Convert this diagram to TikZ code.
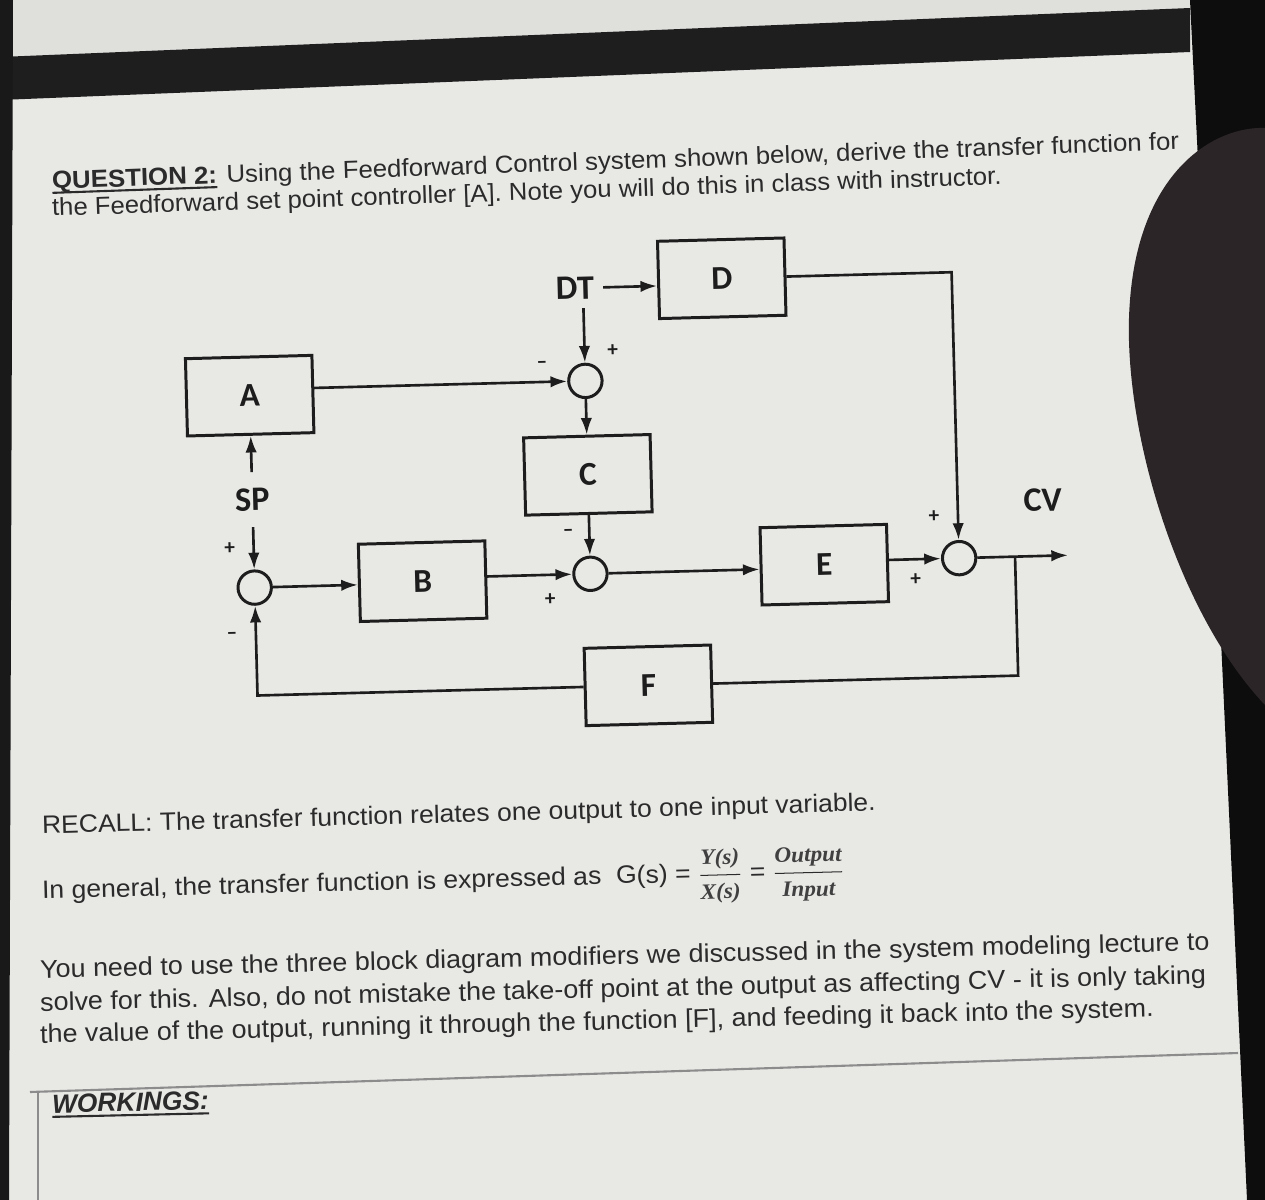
\documentclass[tikz,border=0pt]{standalone}
\usepackage{amsmath}
\usepackage{graphicx}
\usepackage{fontspec}
\setmainfont{Liberation Sans}
\newfontfamily\calib{Carlito}
\newfontfamily\cambr{Liberation Serif}
\usetikzlibrary{arrows.meta,calc}
\definecolor{ink}{HTML}{1D1D1D}
\definecolor{txt}{HTML}{2B2B2B}
\definecolor{paper}{HTML}{E8E9E5}
\definecolor{band}{HTML}{1E1E1E}
\definecolor{finger}{HTML}{2C2527}
\tikzset{
  blk/.style={draw=ink, line width=1.7pt, minimum width=72pt, minimum height=44pt, inner sep=0pt,
    font=\calib\bfseries\fontsize{19}{19}\selectfont, text=ink},
  sumj/.style={circle, draw=ink, line width=1.7pt, minimum size=19pt, inner sep=0pt},
  lbl/.style={inner sep=5pt, font=\calib\bfseries\fontsize{19.5}{19.5}\selectfont, text=ink},
  sgn/.style={inner sep=0pt, font=\calib\bfseries\fontsize{12}{12}\selectfont, text=ink},
  wire/.style={draw=ink, line width=1.5pt},
  conn/.style={wire, -{Latex[length=9.5pt,width=6.5pt]}},
  body/.style={anchor=base west, inner sep=0pt, text=txt},
}
\newcommand{\fracfnt}{\cambr\bfseries\itshape\fontsize{12.5}{12.5}\selectfont\color{black!75}}
\newcommand{\ulbar}[1]{\setbox0\hbox{#1}\rlap{\rule[-2.8pt]{\wd0}{1.2pt}}#1}
\begin{document}
\begin{tikzpicture}[x=0.02cm,y=-0.02cm]
\useasboundingbox (0,0) rectangle (1265,1200);
% background
\fill[paper] (0,0) rectangle (1265,1200);
\fill[black!4!paper] (0,0) -- (1190,0) -- (1190,8) -- (0,57) -- cycle;
\fill[band] (0,57) -- (1190,8) -- (1190,52) -- (0,100) -- cycle;
\fill[black!90] (0,0) -- (13,0) -- (9,1200) -- (0,1200) -- cycle;
\fill[black!95] (1190,0) -- (1265,0) -- (1265,1200) -- (1247,1200) -- (1221,640) -- (1197,140) -- cycle;
\fill[finger] (1265,128) .. controls (1215,126) and (1140,170) .. (1130,300)
  .. controls (1120,420) and (1175,610) .. (1265,705) -- cycle;

% body text
\node[body, rotate=2.0, font=\fontsize{14}{16}\selectfont] (q1) at (52,189) {\scalebox{1.05}[1]{\ulbar{\textbf{QUESTION 2:}} Using the Feedforward Control system shown below, derive the transfer function for}};
\node[body, rotate=1.9, font=\fontsize{14}{16}\selectfont] (q2) at (52,216) {\scalebox{1.045}[1]{the Feedforward set point controller [A]. Note you will do this in class with instructor.}};
\node[body, rotate=1.6, font=\fontsize{14.3}{16}\selectfont] (r1) at (42,834) {\scalebox{1.055}[1]{RECALL: The transfer function relates one output to one input variable.}};
\node[body, rotate=1.5, font=\fontsize{14.3}{16}\selectfont] (r2) at (42,899) {\scalebox{1.057}[1]{In general, the transfer function is expressed as\ \ G(s) = $\dfrac{\text{\fracfnt Y(s)}}{\text{\fracfnt X(s)}}$ = $\dfrac{\text{\fracfnt Output}}{\text{\fracfnt Input}}$}};
\node[body, rotate=1.35, font=\fontsize{14.6}{16}\selectfont] (p1) at (40,978) {\scalebox{1.05}[1]{You need to use the three block diagram modifiers we discussed in the system modeling lecture to}};
\node[body, rotate=1.35, font=\fontsize{14.6}{16}\selectfont] (p2) at (40,1011) {\scalebox{1.05}[1]{solve for this. Also, do not mistake the take-off point at the output as affecting CV - it is only taking}};
\node[body, rotate=1.35, font=\fontsize{14.6}{16}\selectfont] (p3) at (40,1043) {\scalebox{1.05}[1]{the value of the output, running it through the function [F], and feeding it back into the system.}};
\draw[black!45, line width=1.2pt] (30,1092) -- (1238,1053);
\draw[black!45, line width=1.2pt] (38,1091) -- (38,1200);
\node[body, rotate=1.3, font=\bfseries\itshape\fontsize{15}{16}\selectfont] (wk) at (52,1113) {\ulbar{WORKINGS:}};

% diagram
\begin{scope}[rotate around={1.5:(620,480)}, transform shape]
\node[blk] (A) at (252,386) {A};
\node[blk] (D) at (727,281) {D};
\node[blk] (C) at (588,474) {C};
\node[blk] (B) at (420,576) {B};
\node[blk] (E) at (822,570) {E};
\node[blk] (F) at (643,686) {F};
\node[sumj] (S1) at (588,380) {};
\node[sumj] (S2) at (252,578) {};
\node[sumj] (S3) at (588,573) {};
\node[sumj] (S4) at (957,567) {};
\node[lbl] (DT) at (580,287) {DT};
\node[lbl, inner ysep=9pt] (SP) at (252,490) {SP};
\node[lbl] (CV) at (1042,511) {CV};
\coordinate (tk) at (1013,567);
\coordinate (out) at (1066,567);
% signs
\node[sgn] (m1) at (545,363) {–};
\node[sgn] (p1s) at (616,350) {+};
\node[sgn] (m3) at (567,532) {–};
\node[sgn] (p3s) at (547,598) {+};
\node[sgn] (p2s) at (228,538) {+};
\node[sgn] (m2) at (228,626) {–};
\node[sgn] (p4a) at (933,525) {+};
\node[sgn] (p4b) at (913,587) {+};
% connectors
\draw[conn] (DT.east) -- (D.west|-DT.east);
\draw[conn] (S1|-DT.south) -- (S1.north);
\draw[conn] (A.east|-S1.west) -- (S1.west);
\draw[conn] (S1.south) -- (C.north);
\draw[conn] (C.south) -- (S3.north);
\draw[conn] (SP.north) -- (A.south);
\draw[conn] (SP.south) -- (S2.north);
\draw[conn] (S2.east) -- (B.west|-S2.east);
\draw[conn] (B.east|-S3.west) -- (S3.west);
\draw[conn] (S3.east) -- (E.west|-S3.east);
\draw[conn] (E.east|-S4.west) -- (S4.west);
\draw[conn] (D.east) -| (S4.north);
\draw[conn] (S4.east) -- (out);
\draw[wire] (tk) |- (F.east);
\draw[conn] (F.west) -| (S2.south);
\end{scope}
\end{tikzpicture}
\end{document}
